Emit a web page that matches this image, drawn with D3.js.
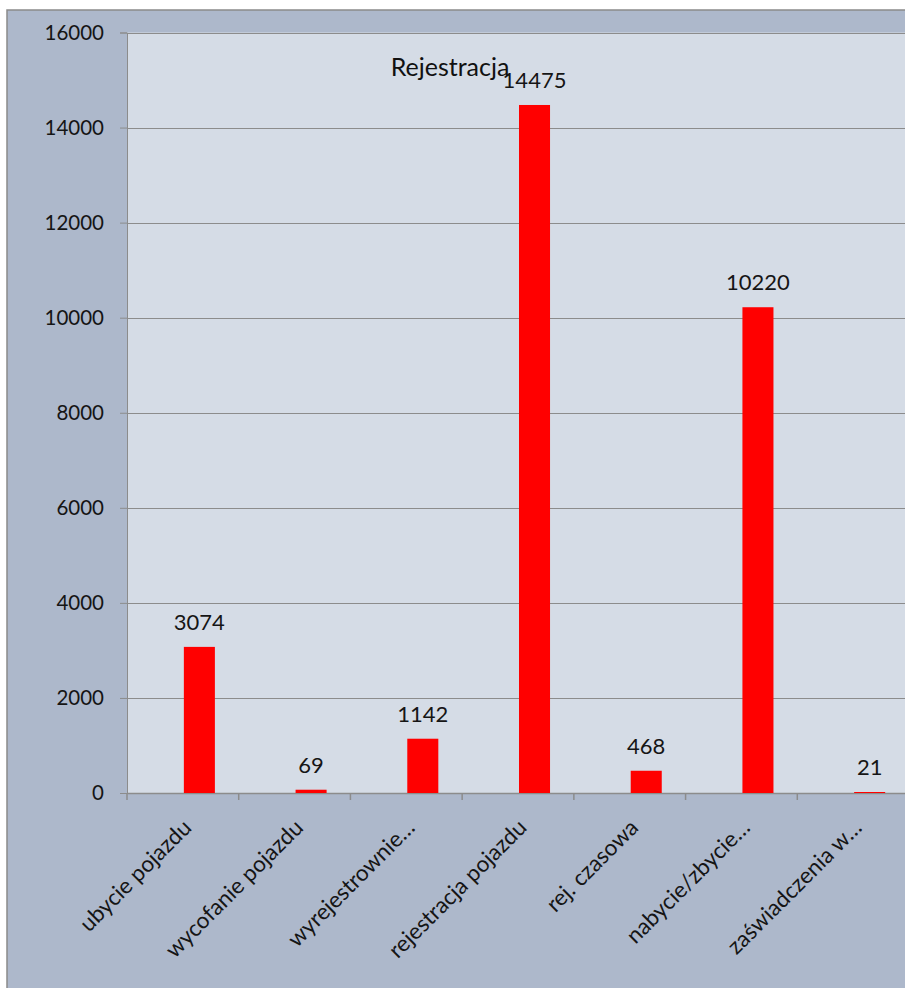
<!DOCTYPE html>
<html><head><meta charset="utf-8">
<script src="https://cdnjs.cloudflare.com/ajax/libs/d3/7.8.5/d3.min.js"></script>
<style>html,body{margin:0;padding:0;background:#fff;}svg{display:block;}</style>
</head><body>
<script>
const categories = ["ubycie pojazdu","wycofanie pojazdu","wyrejestrownie…","rejestracja pojazdu","rej. czasowa","nabycie/zbycie…","zaświadczenia w…"];
const values = [3074, 69, 1142, 14475, 468, 10220, 21];
const yTicks = [0,2000,4000,6000,8000,10000,12000,14000,16000];
const title = "Rejestracja";

(function(){
const W = 905, H = 988;
const svg = d3.select("body").append("svg").attr("width", W).attr("height", H);
const font = "Lato, 'Open Sans', sans-serif";

svg.append("rect").attr("x",7).attr("y",10).attr("width",W+20).attr("height",H+20)
  .attr("fill","#adb8cb").attr("stroke","#8a8a8a").attr("stroke-width",1.5);

const pL = 127, pR = 909, pT = 32.5, pB = 793;
const x = d3.scaleBand().domain(categories).range([pL, pR]).paddingInner(0).paddingOuter(0);
const y = d3.scaleLinear().domain([0,16000]).range([pB, pT]);

svg.append("rect").attr("x",pL).attr("y",pT).attr("width",pR-pL).attr("height",pB-pT).attr("fill","#d5dce6");

// gridlines
svg.append("g").selectAll("line").data(yTicks).join("line")
  .attr("x1",pL).attr("x2",pR).attr("y1",d=>Math.round(y(d))+0.5).attr("y2",d=>Math.round(y(d))+0.5)
  .attr("stroke","#8c8c8c").attr("stroke-width",1);

// y axis
const ya = svg.append("g").attr("transform",`translate(${pL},0)`)
  .call(d3.axisLeft(y).tickValues(yTicks).tickSize(7).tickPadding(16).tickFormat(d3.format("d")));
ya.select(".domain").attr("stroke","#8c8c8c");
ya.selectAll(".tick line").attr("stroke","#8c8c8c");
ya.selectAll("text").attr("font-family",font).attr("font-size",20.5).attr("fill","#151515");

// x axis
const xa = svg.append("g").attr("transform",`translate(0,${pB})`)
  .call(d3.axisBottom(x).tickSize(0).tickFormat(""));
xa.select(".domain").attr("stroke","#8c8c8c").attr("stroke-width",1.5);
const bounds = categories.map(c => x(c)).concat([pR]);
svg.append("g").selectAll("line").data(bounds).join("line")
  .attr("x1",d=>d).attr("x2",d=>d).attr("y1",pB).attr("y2",pB+7)
  .attr("stroke","#8c8c8c").attr("stroke-width",1.5);

// category labels
svg.append("g").selectAll("text").data(categories).join("text")
  .attr("transform", d => `translate(${x(d)+x.bandwidth()/2+10},${pB+36}) rotate(-45)`)
  .attr("text-anchor","end").attr("font-family",font).attr("font-size",22.5).attr("fill","#151515")
  .text(d=>d);

// bars
const bw = x.bandwidth()/3.6;
svg.append("g").selectAll("rect").data(values).join("rect")
  .attr("x",(d,i)=>x(categories[i])+x.bandwidth()/2+1)
  .attr("width",bw)
  .attr("y",d=>y(d)).attr("height",d=>pB-y(d))
  .attr("fill","#ff0000");

// value labels
svg.append("g").selectAll("text").data(values).join("text")
  .attr("x",(d,i)=>x(categories[i])+x.bandwidth()/2+1+bw/2)
  .attr("y",d=>y(d)-17)
  .attr("text-anchor","middle").attr("font-family",font).attr("font-size",22).attr("fill","#151515")
  .text(d=>d);

// title
svg.append("text").attr("x",450).attr("y",76).attr("text-anchor","middle")
  .attr("font-family",font).attr("font-size",25).attr("fill","#111").text(title);
})();
</script>
</body></html>
